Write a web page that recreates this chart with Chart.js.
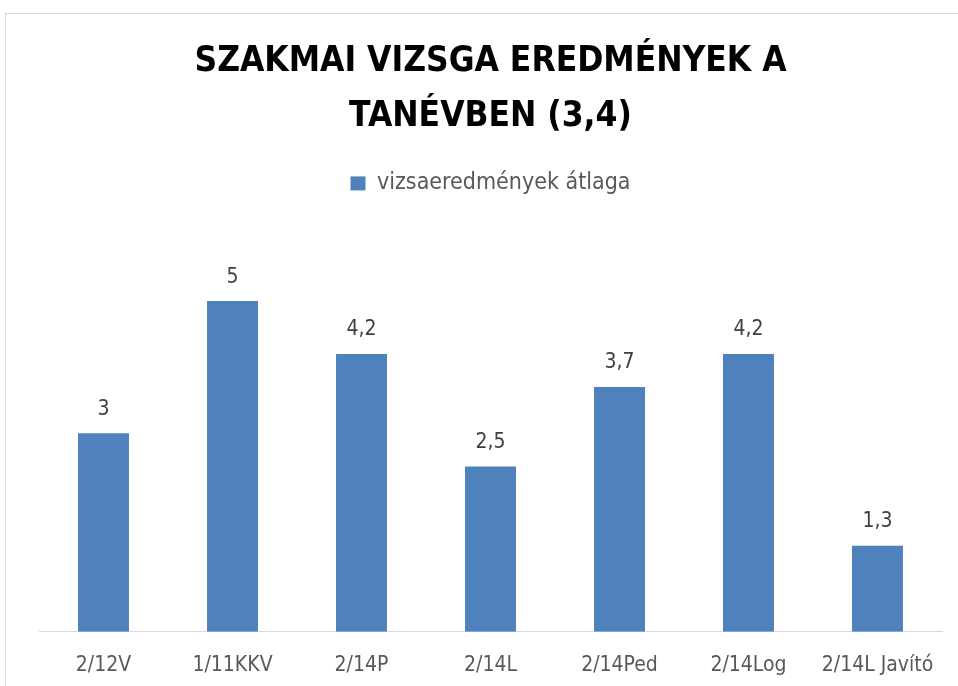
<!DOCTYPE html>
<html>
<head>
<meta charset="utf-8">
<script src="https://cdn.jsdelivr.net/npm/chart.js@4"></script>
<style>
    body { margin: 0; background: #fff; overflow: hidden; }
    #wrap { position: relative; width: 958px; height: 686px; }
    #frame { position: absolute; left: 5px; top: 13px; width: 1000px; height: 1000px; border: 1px solid #d9d9d9; }
    #chart { position: absolute; left: 0; top: 0; }
</style>
</head>
<body>
<div id="wrap">
    <div id="frame"></div>
    <canvas id="chart" width="958" height="686"></canvas>
</div>
<script>
const categories = ['2/12V', '1/11KKV', '2/14P', '2/14L', '2/14Ped', '2/14Log', '2/14L Javító'];
const atlag = [3, 5, 4.2, 2.5, 3.7, 4.2, 1.3];
const titleLines = ['SZAKMAI VIZSGA EREDMÉNYEK A', 'TANÉVBEN (3,4)'];
const seriesName = 'vizsaeredmények átlaga';

const fontName = "'Liberation Sans Narrow', 'DejaVu Sans Condensed', 'Liberation Sans', sans-serif";

// értékek kiírása az oszlopok fölé
const valueLabels = {
    id: 'valueLabels',
    afterDatasetsDraw(chart) {
        const ctx = chart.ctx;
        const meta = chart.getDatasetMeta(0);
        ctx.save();
        ctx.font = '21px ' + fontName;
        ctx.fillStyle = '#404040';
        ctx.textAlign = 'center';
        ctx.textBaseline = 'middle';
        meta.data.forEach((bar, i) => {
            let txt = String(atlag[i]).replace('.', ',');
            ctx.fillText(txt, bar.x, bar.y - 24);
        });
        ctx.restore();
    }
};

// extra hely a jelmagyarázat alatt
const legendSpace = {
    id: 'legendSpace',
    beforeInit(chart) {
        const fit = chart.legend.fit;
        chart.legend.fit = function () {
            fit.bind(chart.legend)();
            this.height += 30;
        };
    }
};

let ctx = document.getElementById('chart').getContext('2d');

const data = {
    labels: categories,
    datasets: [{
        label: seriesName,
        data: atlag,
        backgroundColor: '#4f81bd',
        borderWidth: 0,
        barPercentage: 0.395,
        categoryPercentage: 1
    }]
};

const config = {
    type: 'bar',
    data: data,
    options: {
        responsive: false,
        animation: false,
        layout: {
            padding: { left: 39, right: 16, top: 20, bottom: -13 }
        },
        plugins: {
            title: {
                display: true,
                text: titleLines,
                color: '#000000',
                font: { family: fontName, size: 35, weight: 'bold', lineHeight: 1.57 },
                padding: { top: 14, bottom: 20 }
            },
            legend: {
                position: 'top',
                labels: {
                    color: '#595959',
                    font: { family: fontName, size: 23 },
                    boxWidth: 15,
                    boxHeight: 14,
                    padding: 8
                }
            },
            tooltip: { enabled: false }
        },
        scales: {
            x: {
                grid: { display: false, drawTicks: false },
                border: { display: true, color: '#d9d9d9', width: 1 },
                ticks: {
                    color: '#595959',
                    font: { family: fontName, size: 21 },
                    padding: 21,
                    maxRotation: 0
                }
            },
            y: {
                display: false,
                min: 0,
                max: 6
            }
        }
    },
    plugins: [valueLabels, legendSpace]
};

const bar = new Chart(ctx, config);
</script>
</body>
</html>
